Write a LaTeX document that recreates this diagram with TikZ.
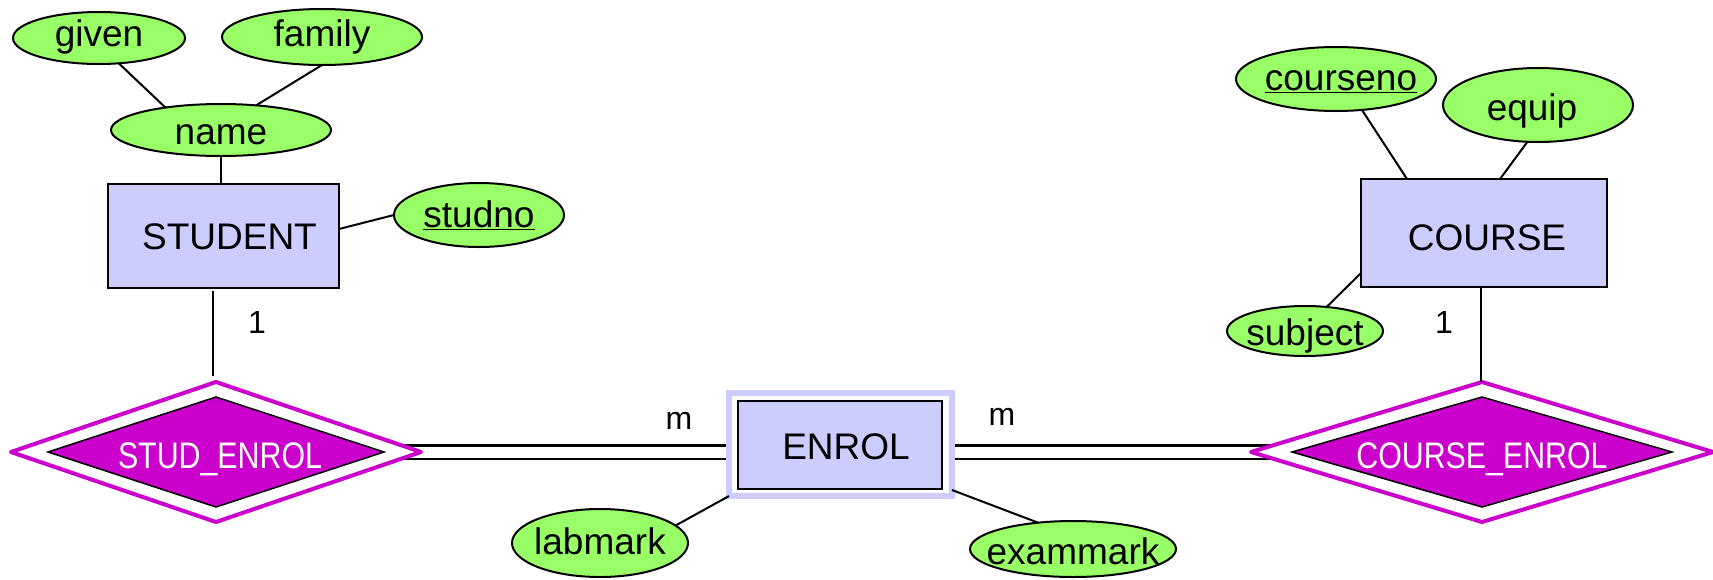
\documentclass[tikz,border=0pt]{standalone}
\usepackage{fontspec}
\setmainfont{Liberation Sans}
\newfontfamily\narrowfont[FakeStretch=0.82]{Liberation Sans}
\usetikzlibrary{shapes.geometric,backgrounds}
\definecolor{entfill}{HTML}{CCCCFF}
\definecolor{attfill}{HTML}{99FF66}
\definecolor{relmag}{HTML}{CC00CC}
\tikzset{
  every node/.style={inner sep=0pt, outer sep=0pt},
  entity/.style={rectangle, draw=black, line width=2pt, fill=entfill},
  weakouter/.style={rectangle, draw=entfill, line width=6pt, fill=white},
  attr/.style={ellipse, draw=black, line width=2pt, fill=attfill},
  txt/.style={font=\fontsize{37}{40}\selectfont, text=black, anchor=base},
  relouter/.style={diamond, draw=relmag, line width=4pt, fill=white, line join=round},
  relinner/.style={diamond, draw=black, line width=1.5pt, fill=relmag, line join=miter},
  reltext/.style={font=\narrowfont\fontsize{37}{40}\selectfont, text=white, anchor=base},
  conn/.style={line width=2pt},
  dbl/.style={line width=2.5pt, double, double distance=11pt},
  card/.style={font=\fontsize{32}{36}\selectfont},
}
\begin{document}
\begin{tikzpicture}[x=1pt,y=-1pt]
\useasboundingbox (0,0) rectangle (1713,579);

% entities
\node[entity, minimum width=231pt, minimum height=104pt] (STU) at (223.5,236) {};
\node[txt] (STUt) at ([xshift=6pt,yshift=-13pt]STU.center) {STUDENT};
\node[entity, minimum width=246pt, minimum height=108pt] (CO) at (1484,233) {};
\node[txt] (COt) at ([xshift=3pt,yshift=-17pt]CO.center) {COURSE};
\node[weakouter, minimum width=223pt, minimum height=103pt] (ENo) at (840.5,444.5) {};
\node[entity, minimum width=204pt, minimum height=88pt] (EN) at (840,445) {};
\node[txt] (ENt) at ([xshift=6pt,yshift=-14pt]EN.center) {ENROL};

% relationships
\node[relouter, minimum width=410pt, minimum height=140pt] (SE) at (216,452) {};
\node[relinner, minimum width=336pt, minimum height=110pt] (SEi) at (216,452) {};
\node[reltext] (SEt) at ([xshift=4pt,yshift=-16pt]SEi.center) {STUD\_ENROL};
\node[relouter, minimum width=462pt, minimum height=140pt] (CE) at (1482,452) {};
\node[relinner, minimum width=380pt, minimum height=110pt] (CEi) at (1482,452) {};
\node[reltext] (CEt) at ([yshift=-16pt]CEi.center) {COURSE\_ENROL};

% attributes
\node[attr, minimum width=172pt, minimum height=52pt] (given) at (99,38) {};
\node[txt] (givent) at ([yshift=-8pt]given.center) {given};
\node[attr, minimum width=200pt, minimum height=56pt] (family) at (322,37) {};
\node[txt] (familyt) at ([yshift=-9pt]family.center) {family};
\node[attr, minimum width=220pt, minimum height=52pt] (name) at (221,130) {};
\node[txt] (namet) at ([yshift=-14pt]name.center) {name};
\node[attr, minimum width=170pt, minimum height=64pt] (studno) at (479,215) {};
\node[txt] (studnot) at ([yshift=-12pt]studno.center) {\underline{studno}};
\node[attr, minimum width=200pt, minimum height=64pt] (courseno) at (1336,79) {};
\node[txt] (coursenot) at ([xshift=5pt,yshift=-11pt]courseno.center) {\underline{courseno}};
\node[attr, minimum width=190pt, minimum height=74pt] (equip) at (1538,105) {};
\node[txt] (equipt) at ([xshift=-6pt,yshift=-15pt]equip.center) {equip};
\node[attr, minimum width=156pt, minimum height=50pt] (subject) at (1305,331) {};
\node[txt] (subjectt) at ([yshift=-14pt]subject.center) {subject};
\node[attr, minimum width=176pt, minimum height=68pt] (labmark) at (600,543) {};
\node[txt] (labmarkt) at ([yshift=-11pt]labmark.center) {labmark};
\node[attr, minimum width=206pt, minimum height=56pt] (exammark) at (1073,549) {};
\node[txt] (exammarkt) at ([yshift=-15pt]exammark.center) {exammark};

% cardinalities
\node[card] (c1) at (257,322) {1};
\node[card] (c2) at (1444,322) {1};
\node[card] (m1) at (679,421) {m};
\node[card] (m2) at (1002,417) {m};

% connectors
\draw[conn] (given.-52) -- (name.158);
\draw[conn] (family.-90) -- (name.35);
\draw[conn] (name.south) -- (name.south |- STU.north);
\draw[conn] ([yshift=7pt]STU.east) -- (studno.west);
\draw[conn] ([xshift=-10.5pt,yshift=-3pt]STU.south) -- ([xshift=-3pt,yshift=6pt]SE.north);
\draw[conn] (courseno.-50) -- ([xshift=-77pt]CO.north);
\draw[conn] (equip.-106) -- ([xshift=16pt]CO.north);
\draw[conn] (subject.48) -- ([yshift=-40pt]CO.west);
\draw[conn] ([xshift=-3pt]CO.south) -- ([xshift=-1pt]CE.north);
\draw[conn] (labmark.13) -- (ENo.south west);
\draw[conn] ([yshift=-45.5pt]ENo.east) -- (exammark.143);

\begin{pgfonlayer}{background}
  \draw[dbl] (SE.center) -- (SE.center -| EN.center);
  \draw[dbl] (CE.center -| EN.center) -- (CE.center);
\end{pgfonlayer}
\end{tikzpicture}
\end{document}
